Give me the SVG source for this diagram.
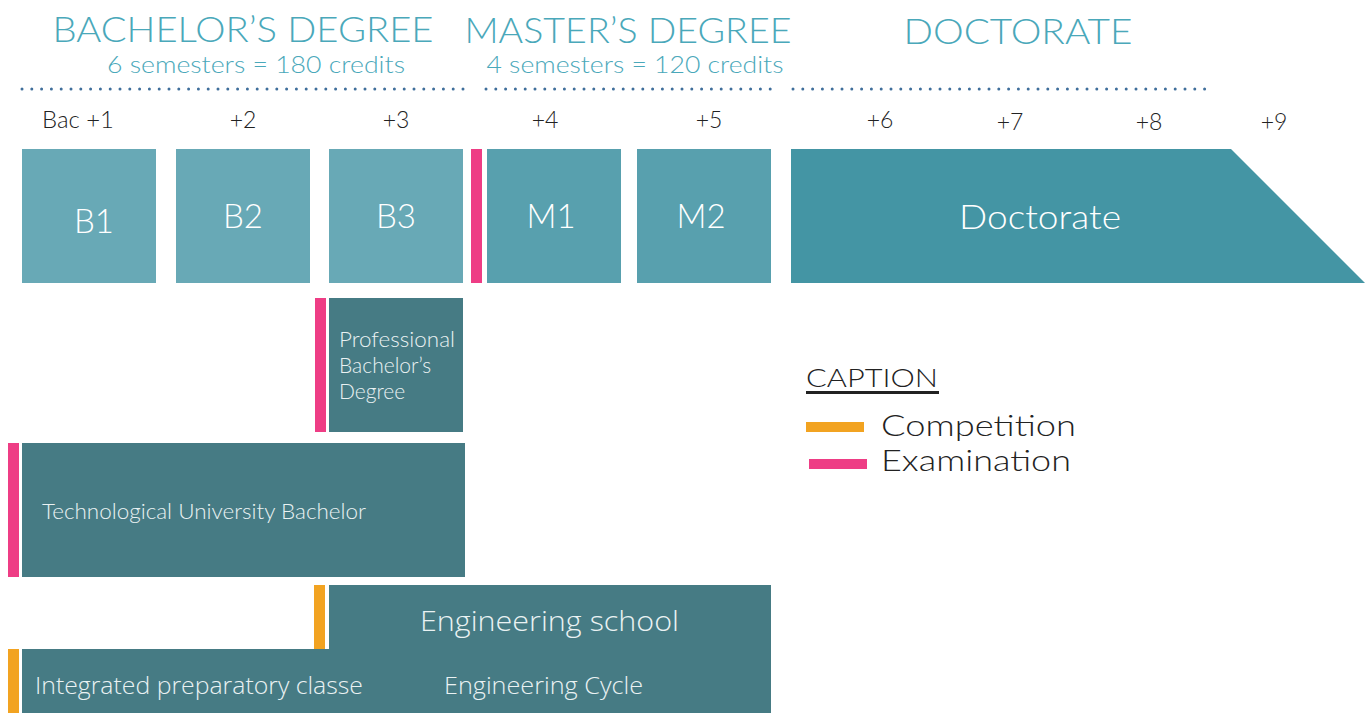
<svg xmlns="http://www.w3.org/2000/svg" width="1365" height="713" viewBox="0 0 1365 713">
<style>
.title{font-family:Lato,"Liberation Sans",sans-serif;fill:#4AA8BA;font-size:35px;font-weight:300}
.sub{font-family:Lato,"Liberation Sans",sans-serif;fill:#4AA8BA;font-size:23px;font-weight:300}
.year{font-family:Lato,"Liberation Sans",sans-serif;fill:#222;font-size:23px;text-anchor:middle;font-weight:300}
.big{font-family:Lato,"Liberation Sans",sans-serif;fill:#fff;font-size:33px;text-anchor:middle;font-weight:300}
.lbl{font-family:Lato,"Liberation Sans",sans-serif;fill:#EAF2F3;font-size:21px;font-weight:300}
.cond{font-family:"Open Sans","Liberation Sans",sans-serif;fill:#EAF2F3;font-weight:300}
.cap{font-family:Lato,"Liberation Sans",sans-serif;fill:#222;font-weight:300}
.dots{stroke:#3F6E9B;stroke-width:3;stroke-linecap:round;stroke-dasharray:0 9.8;fill:none}
.bb{fill:#68A9B6}.mb{fill:#58A0AE}.db{fill:#4495A4}.dk{fill:#467B84}
.ex{fill:#EE3D85}.co{fill:#F2A321}
</style>
<g id="headers">
<text class="title" x="243" y="42" text-anchor="middle" textLength="381" lengthAdjust="spacingAndGlyphs">BACHELOR’S DEGREE</text>
<text class="sub" x="256" y="73" text-anchor="middle" textLength="298" lengthAdjust="spacingAndGlyphs">6 semesters = 180 credits</text>
<text class="title" x="628" y="43" text-anchor="middle" textLength="327" lengthAdjust="spacingAndGlyphs">MASTER’S DEGREE</text>
<text class="sub" x="635" y="73" text-anchor="middle" textLength="297" lengthAdjust="spacingAndGlyphs">4 semesters = 120 credits</text>
<text class="title" x="1018" y="44" text-anchor="middle" textLength="229" lengthAdjust="spacingAndGlyphs">DOCTORATE</text>
<path class="dots" d="M22 89H464M486 89H771M793 89H1208"/>
</g>
<g id="years">
<text class="year" x="78" y="128" textLength="72" lengthAdjust="spacingAndGlyphs">Bac +1</text>
<text class="year" x="243" y="128">+2</text>
<text class="year" x="396" y="128">+3</text>
<text class="year" x="545" y="128">+4</text>
<text class="year" x="709" y="128">+5</text>
<text class="year" x="880" y="128">+6</text>
<text class="year" x="1010" y="130">+7</text>
<text class="year" x="1149" y="130">+8</text>
<text class="year" x="1274" y="130">+9</text>
</g>
<g id="b1"><rect class="bb" x="22" y="149" width="134" height="134"/><text class="big" x="94" y="233">B1</text></g>
<g id="b2"><rect class="bb" x="176" y="149" width="134" height="134"/><text class="big" x="243" y="228">B2</text></g>
<g id="b3"><rect class="bb" x="329" y="149" width="134" height="134"/><text class="big" x="396" y="228">B3</text></g>
<g id="m1"><rect class="ex" x="471" y="149" width="11" height="134"/><rect class="mb" x="487" y="149" width="134" height="134"/><text class="big" x="551" y="228">M1</text></g>
<g id="m2"><rect class="mb" x="637" y="149" width="134" height="134"/><text class="big" x="701" y="228">M2</text></g>
<g id="doctorate"><polygon class="db" points="791,149 1231,149 1365,283 791,283"/><text class="big" x="1040" y="229" font-size="35" textLength="162" lengthAdjust="spacingAndGlyphs">Doctorate</text></g>
<g id="professional">
<rect class="ex" x="315" y="298" width="11" height="134"/>
<rect class="dk" x="329" y="298" width="134" height="134"/>
<text class="lbl" x="339" y="347" textLength="116" lengthAdjust="spacingAndGlyphs">Professional</text>
<text class="lbl" x="339" y="373">Bachelor’s</text>
<text class="lbl" x="339" y="399">Degree</text>
</g>
<g id="technological">
<rect class="ex" x="8" y="443" width="11" height="134"/>
<rect class="dk" x="22" y="443" width="443" height="134"/>
<text class="lbl" x="42" y="519" font-size="20" textLength="324" lengthAdjust="spacingAndGlyphs">Technological University Bachelor</text>
</g>
<g id="engineering">
<rect class="co" x="314" y="585" width="11" height="64"/>
<rect class="co" x="8" y="649" width="11" height="64"/>
<polygon class="dk" points="329,585 771,585 771,713 22,713 22,649 329,649"/>
<text class="cond" x="420" y="631" font-size="28" textLength="259" lengthAdjust="spacingAndGlyphs">Engineering school</text>
<text class="cond" x="35" y="694" font-size="24" textLength="328" lengthAdjust="spacingAndGlyphs">Integrated preparatory classe</text>
<text class="cond" x="444" y="694" font-size="24" textLength="199" lengthAdjust="spacingAndGlyphs">Engineering Cycle</text>
</g>
<g id="caption">
<text class="cap" x="806" y="387" font-size="26" textLength="132" lengthAdjust="spacingAndGlyphs">CAPTION</text>
<rect fill="#222" x="806" y="391" width="133" height="3"/>
<rect class="co" x="806" y="422" width="58" height="10"/>
<text class="cap" x="881" y="436" font-size="30" textLength="195" lengthAdjust="spacingAndGlyphs">Competition</text>
<rect class="ex" x="809" y="459" width="58" height="10"/>
<text class="cap" x="881" y="471" font-size="30" textLength="190" lengthAdjust="spacingAndGlyphs">Examination</text>
</g>
</svg>
